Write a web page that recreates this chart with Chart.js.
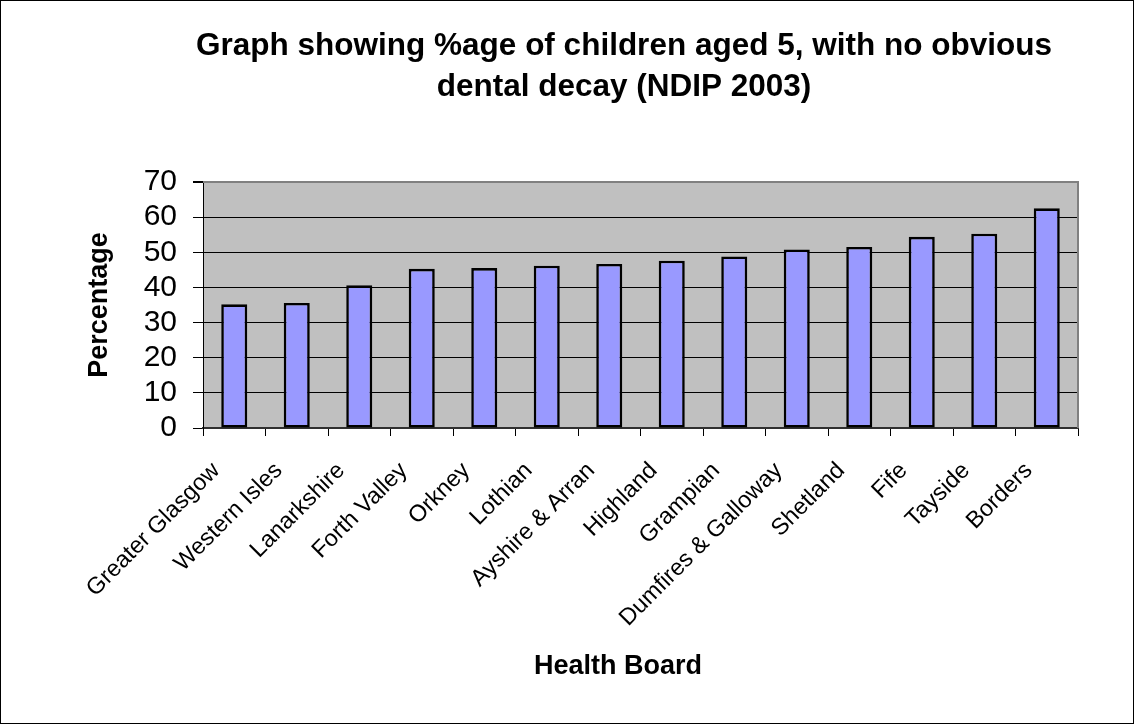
<!DOCTYPE html>
<html>
<head>
<meta charset="utf-8">
<script src="https://cdn.jsdelivr.net/npm/chart.js@4"></script>
<style>
  html, body { margin: 0; padding: 0; background: #ffffff; }
  #wrap { width: 1134px; height: 724px; position: relative; }
</style>
</head>
<body>
<div id="wrap"><canvas id="chart" width="1134" height="724"></canvas></div>
<script>
// Health boards, ordered from lowest to highest share
const healthBoards = [
  'Greater Glasgow', 'Western Isles', 'Lanarkshire', 'Forth Valley', 'Orkney',
  'Lothian', 'Ayshire & Arran', 'Highland', 'Grampian', 'Dumfires & Galloway',
  'Shetland', 'Fife', 'Tayside', 'Borders'
];

// % of 5-year-olds with no obvious dental decay
const pctNoDecay = [35.2, 35.6, 40.6, 45.3, 45.5, 46.2, 46.7, 47.6, 48.8, 50.8, 51.5, 54.4, 55.3, 62.5];

// Value axis ticks
const yTickValues = [0, 10, 20, 30, 40, 50, 60, 70];

const chartTitleLines = ['Graph showing %age of children aged 5, with no obvious', 'dental decay (NDIP 2003)'];
const xAxisTitle = 'Health Board';
const yAxisTitle = 'Percentage';

const FONT = "'Liberation Sans', Arial, Helvetica, sans-serif";

// Grey plot background, grey top/right frame, titles and the outer frame
const frameAndTitles = {
  id: 'frameAndTitles',
  beforeDraw(chart) {
    const { ctx, chartArea: a } = chart;
    ctx.save();
    ctx.fillStyle = '#ffffff';
    ctx.fillRect(0, 0, chart.width, chart.height);
    ctx.fillStyle = '#C0C0C0';
    ctx.fillRect(a.left, a.top, a.right - a.left, a.bottom - a.top);
    ctx.restore();
  },
  beforeDatasetsDraw(chart) {
    const { ctx, chartArea: a } = chart;
    ctx.save();
    ctx.strokeStyle = '#808080';
    ctx.lineWidth = 2;
    ctx.beginPath();
    ctx.moveTo(a.left, a.top);
    ctx.lineTo(a.right, a.top);
    ctx.lineTo(a.right, a.bottom);
    ctx.stroke();
    ctx.restore();
  },
  afterDraw(chart) {
    const { ctx } = chart;
    ctx.save();
    ctx.fillStyle = '#000000';
    ctx.textAlign = 'center';
    ctx.textBaseline = 'alphabetic';
    ctx.font = 'bold 31.5px ' + FONT;
    ctx.fillText(chartTitleLines[0], 624, 55);
    ctx.fillText(chartTitleLines[1], 624, 96);
    ctx.font = 'bold 27px ' + FONT;
    ctx.fillText(xAxisTitle, 618, 674);
    ctx.strokeStyle = '#000000';
    ctx.lineWidth = 1;
    ctx.strokeRect(0.5, 0.5, chart.width - 1, chart.height - 1);
    ctx.restore();
  }
};

new Chart(document.getElementById('chart'), {
  type: 'bar',
  data: {
    labels: healthBoards,
    datasets: [{
      data: pctNoDecay,
      backgroundColor: '#9999FF',
      borderColor: '#000000',
      borderWidth: 2.6,
      borderSkipped: false,
      barPercentage: 0.4165,
      categoryPercentage: 1
    }]
  },
  options: {
    responsive: false,
    animation: false,
    events: [],
    layout: { padding: { top: 182, right: 56, bottom: 0, left: 0 } },
    plugins: {
      legend: { display: false },
      title: { display: false },
      tooltip: { enabled: false }
    },
    scales: {
      x: {
        offset: true,
        afterFit(scale) { scale.height = 296; },
        grid: {
          offset: true,
          drawOnChartArea: false,
          drawTicks: true,
          tickLength: 8,
          color: '#000000',
          lineWidth: 1
        },
        border: { display: true, color: '#303030', width: 2 },
        ticks: {
          autoSkip: false,
          minRotation: 45,
          maxRotation: 45,
          padding: 21,
          labelOffset: -18,
          color: '#000000',
          font: { family: FONT, size: 23.5 }
        }
      },
      y: {
        min: 0,
        max: 70,
        afterFit(scale) { scale.width = 203; },
        afterBuildTicks(scale) { scale.ticks = yTickValues.map(v => ({ value: v })); },
        grid: {
          drawTicks: true,
          tickLength: 10,
          color: (c) => (c.tick && c.tick.value === 70 ? '#808080' : '#000000'),
          lineWidth: (c) => (c.tick && c.tick.value === 70 ? 2 : 1),
          tickColor: '#000000'
        },
        border: { display: true, color: '#000000', width: 1 },
        ticks: {
          autoSkip: false,
          padding: 16,
          color: '#000000',
          font: { family: FONT, size: 30 }
        },
        title: {
          display: true,
          text: yAxisTitle,
          color: '#000000',
          font: { family: FONT, size: 27, weight: 'bold' },
          padding: { top: 83, bottom: 0 }
        }
      }
    }
  },
  plugins: [frameAndTitles]
});
</script>
</body>
</html>
